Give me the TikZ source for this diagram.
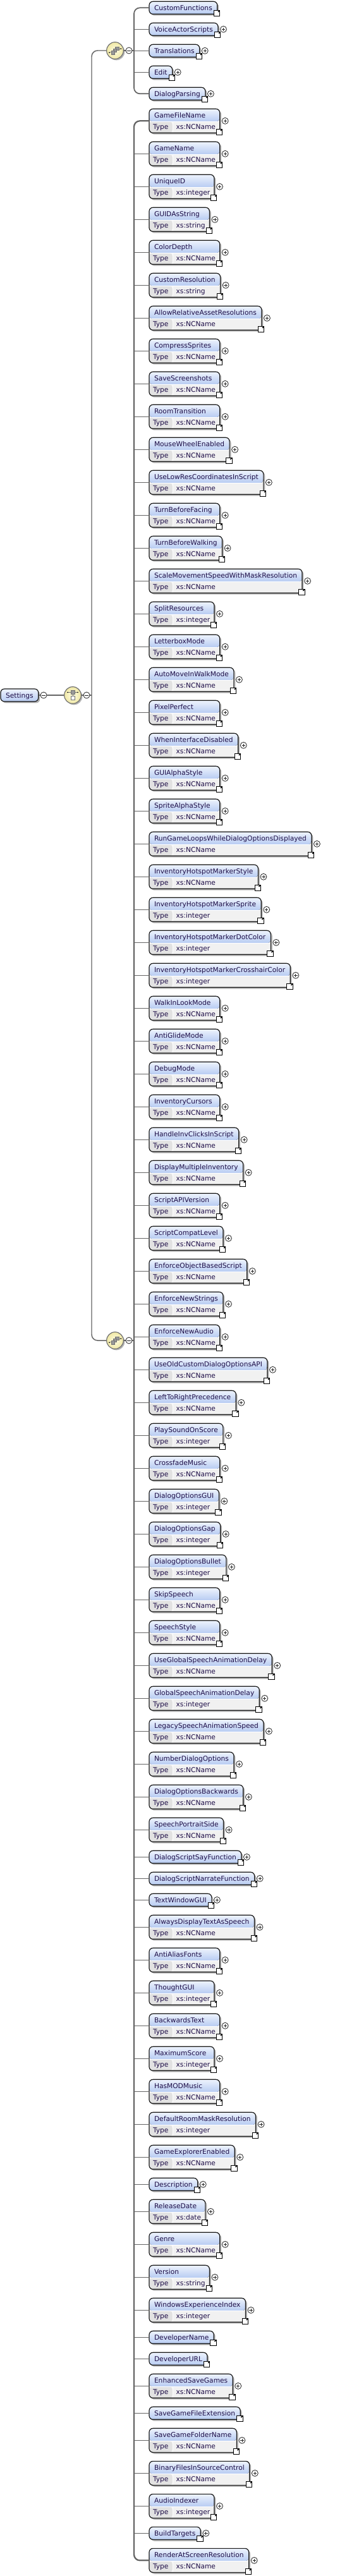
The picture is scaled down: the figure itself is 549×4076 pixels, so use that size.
\documentclass[tikz,border=0pt]{standalone}
\usepackage{fontspec}
\setmainfont{DejaVu Sans}
\usetikzlibrary{shadows}

\definecolor{hdtop}{RGB}{238,243,253}
\definecolor{hdbot}{RGB}{183,203,242}
\definecolor{rowgray}{RGB}{241,241,241}
\definecolor{cellgray}{RGB}{226,226,226}
\definecolor{namecol}{RGB}{28,12,70}
\definecolor{linkgray}{RGB}{100,100,100}
\definecolor{ballin}{RGB}{255,253,228}
\definecolor{ballout}{RGB}{240,232,165}

\newcommand\tyN{xs:NCName}
\newcommand\tyI{xs:integer}
\newcommand\tyS{xs:string}
\newcommand\tyD{xs:date}
\newcommand\namerow[1]{\hbox{\rule[-4.4pt]{0pt}{15pt}\hspace{6pt}#1\hspace{6pt}}}
\newcommand\typerow[1]{\hbox{\rule[-4.1pt]{0pt}{13.5pt}%
  \makebox[27.75pt][l]{\hspace{4.5pt}Type}\hspace{4.25pt}#1\hspace{5pt}}}
\newcommand\entry[2]{\ifcsname ty#2\endcsname
  \vbox{\offinterlineskip\namerow{#1}\typerow{\csname ty#2\endcsname}}%
  \else\namerow{#1}\fi}

\tikzset{
  elem/.style={rectangle, rounded corners=4.5pt, draw=black!90, line width=.9pt,
    inner sep=0pt, outer sep=0pt, anchor=west, text=namecol,
    font=\fontsize{8pt}{9.6pt}\selectfont,
    drop shadow={shadow xshift=1.8pt, shadow yshift=-1.8pt, opacity=.3, fill=black},
    path picture={\fill[top color=hdtop, bottom color=hdbot]
      (path picture bounding box.south west) rectangle (path picture bounding box.north east);}},
  typed/.style={path picture={
    \fill[rowgray] (path picture bounding box.south west) rectangle (path picture bounding box.north east);
    \fill[cellgray] (path picture bounding box.south west) rectangle
      ([shift={(27.75pt,13.5pt)}]path picture bounding box.south west);
    \fill[top color=hdtop, bottom color=hdbot] ([yshift=-15pt]path picture bounding box.north west)
      rectangle (path picture bounding box.north east);
    \draw[white, line width=.6pt] ([xshift=27.75pt]path picture bounding box.south west) -- ++(0pt,13.5pt);
    \draw[white, line width=.75pt] ([yshift=-15pt]path picture bounding box.north west)
      -- ([yshift=-15pt]path picture bounding box.north east);}},
  elem N/.style={typed}, elem I/.style={typed}, elem S/.style={typed}, elem D/.style={typed},
  link/.style={draw=linkgray, line width=1.1pt},
  spine/.style={link, rounded corners=7pt},
  pm/.style={circle, draw=black!85, fill=white, line width=.6pt, minimum size=7.5pt,
    inner sep=0pt, outer sep=0pt},
  plus/.style={pm, path picture={
    \draw[line width=.6pt] ([xshift=-2pt]path picture bounding box.center) -- ++(4pt,0pt)
      ([yshift=-2pt]path picture bounding box.center) -- ++(0pt,4pt);}},
  minus/.style={pm, path picture={
    \draw[line width=.6pt] ([xshift=-2pt]path picture bounding box.center) -- ++(4pt,0pt);}},
  ref/.style={rectangle, draw=black, fill=white, line width=.6pt, minimum size=7pt,
    inner sep=0pt, outer sep=0pt, path picture={
    \begin{scope}[shift={(path picture bounding box.south west)}]
      \draw[line width=1.1pt] (1.6pt,1.6pt) -- (4.6pt,4.6pt);
      \fill (2.6pt,5.8pt) -- (5.8pt,5.8pt) -- (5.8pt,2.6pt) -- cycle;
    \end{scope}}},
  ball/.style={circle, draw=black!55, line width=.9pt, minimum size=20pt, inner sep=0pt,
    inner color=ballin, outer color=ballout,
    drop shadow={shadow xshift=1.5pt, shadow yshift=-1.5pt, opacity=.3, fill=black}},
  all/.style={ball, path picture={
    \begin{scope}[shift={(path picture bounding box.center)}, line width=.5pt]
      \draw (-6.8pt,-2.4pt) -- (6.8pt,2.2pt);
      \fill (-6.8pt,-2.4pt) circle (.7pt) (7pt,2.2pt) circle (.7pt);
      \filldraw[fill=black!40] (0.2pt,0.2pt) rectangle (4.4pt,4.4pt);
      \filldraw[fill=black!40] (-2.1pt,-2.1pt) rectangle (2.1pt,2.1pt);
      \filldraw[fill=black!40] (-4.4pt,-4.4pt) rectangle (-0.2pt,-0.2pt);
    \end{scope}}},
  seq/.style={ball, path picture={
    \begin{scope}[shift={(path picture bounding box.center)}, line width=.5pt]
      \draw (-6pt,3.4pt) -- (6pt,3.4pt) (0pt,1pt) -- (0pt,-1.2pt);
      \fill (-6pt,3.4pt) circle (.7pt) (6pt,3.4pt) circle (.7pt);
      \filldraw[fill=black!40] (-2.2pt,1.2pt) rectangle (2.2pt,5.6pt);
      \filldraw[fill=white] (-2.2pt,-5.6pt) rectangle (2.2pt,-1.2pt);
    \end{scope}}},
}

\begin{document}
\begin{tikzpicture}[x=0.75pt, y=-0.75pt]
\useasboundingbox (0,0) rectangle (549,4076);

% root and first compositor
\node[elem] (root) at (1,1100) {\namerow{Settings}};
\node[minus] (m0a) at (69,1100) {};
\node[seq] (cmp0) at (115,1100) {};
\node[minus] (m0) at (137,1100) {};
\coordinate (sp0) at (145,1100);

\node[all] (cmp1) at (182,80) {};
\node[minus] (m1) at (204,80) {};
\coordinate (sp1) at (212,80);

\node[all] (cmp2) at (182,2121) {};
\node[minus] (m2) at (204,2121) {};
\coordinate (sp2) at (212,2121);

% first group
\foreach \y/\n/\tp [count=\i] in {12.3/CustomFunctions/o, 46.3/VoiceActorScripts/p,
    80.3/Translations/p, 114.3/Edit/p, 148.3/DialogParsing/p} {
  \node[elem, elem \tp/.try] (a\i) at (236,\y) {\entry{\n}{\tp}};
  \node[ref] (ra\i) at ([shift={(-0.6pt,0.9pt)}]a\i.south east) {};
  \if\tp o\else\node[plus] (pa\i) at ([xshift=6.4pt]a\i.east) {};\fi
  \ifnum\i=1\else\ifnum\i=5\else\draw[link] (a\i.west -| sp1) -- (a\i.west);\fi\fi
}

% second group
\foreach \y/\n/\tp [count=\i] in {
    191.3/GameFileName/N, 243.3/GameName/N, 295.3/UniqueID/I, 347.3/GUIDAsString/S,
    399.3/ColorDepth/N, 451.3/CustomResolution/S, 503.3/AllowRelativeAssetResolutions/N,
    555.3/CompressSprites/N, 607.3/SaveScreenshots/N, 659.3/RoomTransition/N,
    711.3/MouseWheelEnabled/N, 763.3/UseLowResCoordinatesInScript/N,
    815.3/TurnBeforeFacing/N, 867.3/TurnBeforeWalking/N,
    919.3/ScaleMovementSpeedWithMaskResolution/N, 971.3/SplitResources/I,
    1023.3/LetterboxMode/N, 1075.3/AutoMoveInWalkMode/N, 1127.3/PixelPerfect/N,
    1179.3/WhenInterfaceDisabled/N, 1231.3/GUIAlphaStyle/N, 1283.3/SpriteAlphaStyle/N,
    1335.3/RunGameLoopsWhileDialogOptionsDisplayed/N,
    1387.3/InventoryHotspotMarkerStyle/N, 1439.3/InventoryHotspotMarkerSprite/I,
    1491.3/InventoryHotspotMarkerDotColor/I, 1543.3/InventoryHotspotMarkerCrosshairColor/I,
    1595.3/WalkInLookMode/N, 1647.3/AntiGlideMode/N, 1699.3/DebugMode/N,
    1751.3/InventoryCursors/N, 1803.3/HandleInvClicksInScript/N,
    1855.3/DisplayMultipleInventory/N, 1907.3/ScriptAPIVersion/N,
    1959.3/ScriptCompatLevel/N, 2011.3/EnforceObjectBasedScript/N,
    2063.3/EnforceNewStrings/N, 2115.3/EnforceNewAudio/N,
    2167.3/UseOldCustomDialogOptionsAPI/N, 2219.3/LeftToRightPrecedence/N,
    2271.3/PlaySoundOnScore/I, 2323.3/CrossfadeMusic/N, 2375.3/DialogOptionsGUI/I,
    2427.3/DialogOptionsGap/I, 2479.3/DialogOptionsBullet/I, 2531.3/SkipSpeech/N,
    2583.3/SpeechStyle/N, 2635.3/UseGlobalSpeechAnimationDelay/N,
    2687.3/GlobalSpeechAnimationDelay/I, 2739.3/LegacySpeechAnimationSpeed/N,
    2791.3/NumberDialogOptions/N, 2843.3/DialogOptionsBackwards/N,
    2895.3/SpeechPortraitSide/N, 2938.3/DialogScriptSayFunction/p,
    2972.3/DialogScriptNarrateFunction/p, 3006.3/TextWindowGUI/p,
    3049.3/AlwaysDisplayTextAsSpeech/N, 3101.3/AntiAliasFonts/N, 3153.3/ThoughtGUI/I,
    3205.3/BackwardsText/N, 3257.3/MaximumScore/I, 3309.3/HasMODMusic/N,
    3361.3/DefaultRoomMaskResolution/I, 3413.3/GameExplorerEnabled/N,
    3456.3/Description/p, 3499.3/ReleaseDate/D, 3551.3/Genre/N, 3603.3/Version/S,
    3655.3/WindowsExperienceIndex/I, 3698.3/DeveloperName/o, 3732.3/DeveloperURL/o,
    3775.3/EnhancedSaveGames/N, 3818.3/SaveGameFileExtension/o,
    3861.3/SaveGameFolderName/N, 3913.3/BinaryFilesInSourceControl/N,
    3965.3/AudioIndexer/I, 4008.3/BuildTargets/p, 4051.3/RenderAtScreenResolution/N} {
  \node[elem, elem \tp/.try] (b\i) at (236,\y) {\entry{\n}{\tp}};
  \node[ref] (rb\i) at ([shift={(-0.6pt,0.9pt)}]b\i.south east) {};
  \if\tp o\else\node[plus] (pb\i) at ([xshift=6.4pt]b\i.east) {};\fi
  \ifnum\i=1\else\ifnum\i=78\else\draw[link] (b\i.west -| sp2) -- (b\i.west);\fi\fi
}

% connectors
\draw[link] (root) -- (m0a);
\draw[link] (m0a) -- (cmp0);
\draw[link] (cmp0) -- (m0);
\draw[link] (m0) -- (sp0);
\draw[spine] (cmp1.west) -| (sp0) |- (cmp2.west);
\draw[link] (cmp1) -- (m1);
\draw[link] (m1) -- (sp1);
\draw[link] (cmp2) -- (m2);
\draw[link] (m2) -- (sp2);
\draw[spine, line width=1.3pt] (a1.west) -| (sp1) |- (a5.west);
\draw[spine, line width=1.7pt] (b1.west) -| (sp2) |- (b78.west);
\end{tikzpicture}
\end{document}
